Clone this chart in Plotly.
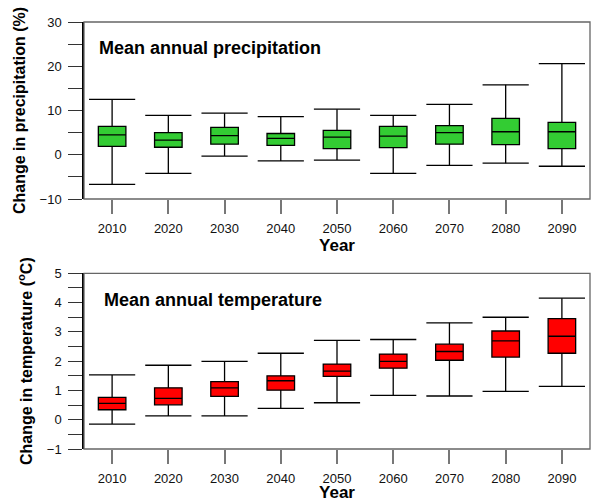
import plotly.graph_objects as go

years = [2010, 2020, 2030, 2040, 2050, 2060, 2070, 2080, 2090]
year_labels = [str(y) for y in years]

# Precipitation change (%)
p_low = [-6.7, -4.2, -0.3, -1.4, -1.2, -4.2, -2.4, -1.9, -2.6]
p_q1 = [1.9, 1.7, 2.4, 2.1, 1.4, 1.6, 2.4, 2.3, 1.4]
p_med = [4.5, 3.3, 4.3, 3.7, 4.0, 4.2, 5.0, 5.2, 5.2]
p_q3 = [6.4, 5.0, 6.2, 4.8, 5.5, 6.4, 6.6, 8.2, 7.3]
p_high = [12.5, 8.9, 9.4, 8.6, 10.3, 8.9, 11.4, 15.8, 20.6]

# Temperature change (degC)
t_low = [-0.15, 0.13, 0.13, 0.39, 0.58, 0.83, 0.81, 0.97, 1.14]
t_q1 = [0.34, 0.51, 0.80, 1.01, 1.48, 1.76, 2.03, 2.14, 2.27]
t_med = [0.56, 0.73, 1.09, 1.33, 1.66, 1.99, 2.33, 2.69, 2.85]
t_q3 = [0.76, 1.09, 1.30, 1.50, 1.90, 2.24, 2.58, 3.03, 3.45]
t_high = [1.53, 1.86, 1.99, 2.27, 2.71, 2.74, 3.31, 3.50, 4.15]

FONT = "Arial, Liberation Sans, sans-serif"
GREEN = "#33CC33"
RED = "#FF0000"

fig = go.Figure()


def add_panel(xa, ya, low, q1, med, q3, high, color):
    fig.add_trace(go.Box(
        x=years, q1=q1, median=med, q3=q3, lowerfence=low, upperfence=high,
        width=4.9, whiskerwidth=0, fillcolor=color,
        line=dict(color="black", width=1.3), boxpoints=False,
        xaxis=xa, yaxis=ya, showlegend=False, hoverinfo="skip"))
    fig.add_trace(go.Scatter(
        x=years + years, y=high + low, mode="markers",
        marker=dict(symbol="line-ew", size=33, color="black",
                    line=dict(color="black", width=1.3)),
        xaxis=xa, yaxis=ya, showlegend=False, hoverinfo="skip"))


add_panel("x", "y", p_low, p_q1, p_med, p_q3, p_high, GREEN)
add_panel("x2", "y2", t_low, t_q1, t_med, t_q3, t_high, RED)

W, H = 591, 502
ML, MR, MT, MB = 84, 1, 22, 53
PH = H - MT - MB
top_dom = [1 - (199 - MT) / PH, 1]
bot_dom = [0, 1 - (273.3 - MT) / PH]

tickfont = dict(family=FONT, size=13, color="#111")
titlefont = dict(family=FONT, size=16, color="black")
xtitlefont = dict(family=FONT, size=17, color="black")

xcommon = dict(range=[2005, 2095], tickvals=years, ticktext=year_labels,
               ticks="outside", ticklen=14, tickcolor="#777", tickwidth=1.5,
               showgrid=False, zeroline=False, showline=False, automargin=False,
               tickfont=tickfont, ticklabelstandoff=3)

ycommon = dict(ticks="outside", ticklen=14, tickcolor="#333", tickwidth=1.3,
               showline=True, linecolor="black", linewidth=1.5, automargin=False,
               showgrid=False, zeroline=False, tickfont=tickfont,
               ticklabelstandoff=4)

fig.update_layout(
    width=W, height=H,
    margin=dict(l=ML, r=MR, t=MT, b=MB),
    paper_bgcolor="white", plot_bgcolor="white",
    font=dict(family=FONT),
    xaxis=dict(domain=[0, 1], anchor="y",
               title=dict(text="<b>Year</b>", font=xtitlefont, standoff=1),
               **xcommon),
    xaxis2=dict(domain=[0, 1], anchor="y2",
                title=dict(text="<b>Year</b>", font=xtitlefont, standoff=1),
                **xcommon),
    yaxis=dict(domain=top_dom, anchor="x", range=[-10, 30],
               tickvals=[-10, 0, 10, 20, 30],
               minor=dict(tickvals=[-5, 5, 15, 25], ticks="outside", ticklen=14,
                          tickcolor="#333", tickwidth=1.3),
               title=dict(text="<b>Change in precipitation (%)</b>",
                          font=titlefont, standoff=10),
               **ycommon),
    yaxis2=dict(domain=bot_dom, anchor="x2", range=[-1, 5],
                tickvals=[-1, 0, 1, 2, 3, 4, 5],
                minor=dict(tickvals=[-0.5, 0.5, 1.5, 2.5, 3.5, 4.5], ticks="outside",
                           ticklen=14, tickcolor="#333", tickwidth=1.3),
                title=dict(text="<b>Change in temperature (<sup>o</sup>C)</b>",
                           font=titlefont, standoff=10),
                **ycommon),
    shapes=[
        dict(type="rect", xref="x domain", yref="y domain", x0=0, x1=1, y0=0, y1=1,
             line=dict(color="#666", width=1.3), layer="above"),
        dict(type="rect", xref="x2 domain", yref="y2 domain", x0=0, x1=1, y0=0, y1=1,
             line=dict(color="#666", width=1.3), layer="above"),
    ],
    annotations=[
        dict(text="<b>Mean annual precipitation</b>", xref="x domain", yref="y domain",
             x=0.026, y=0.855, xanchor="left", yanchor="middle", showarrow=False,
             font=dict(family=FONT, size=18, color="black")),
        dict(text="<b>Mean annual temperature</b>", xref="x2 domain", yref="y2 domain",
             x=0.036, y=0.848, xanchor="left", yanchor="middle", showarrow=False,
             font=dict(family=FONT, size=18, color="black")),
    ],
)

fig.write_html("out.html", config={"displayModeBar": False},
               post_script="document.body.style.margin='0';document.body.style.overflow='hidden';")
